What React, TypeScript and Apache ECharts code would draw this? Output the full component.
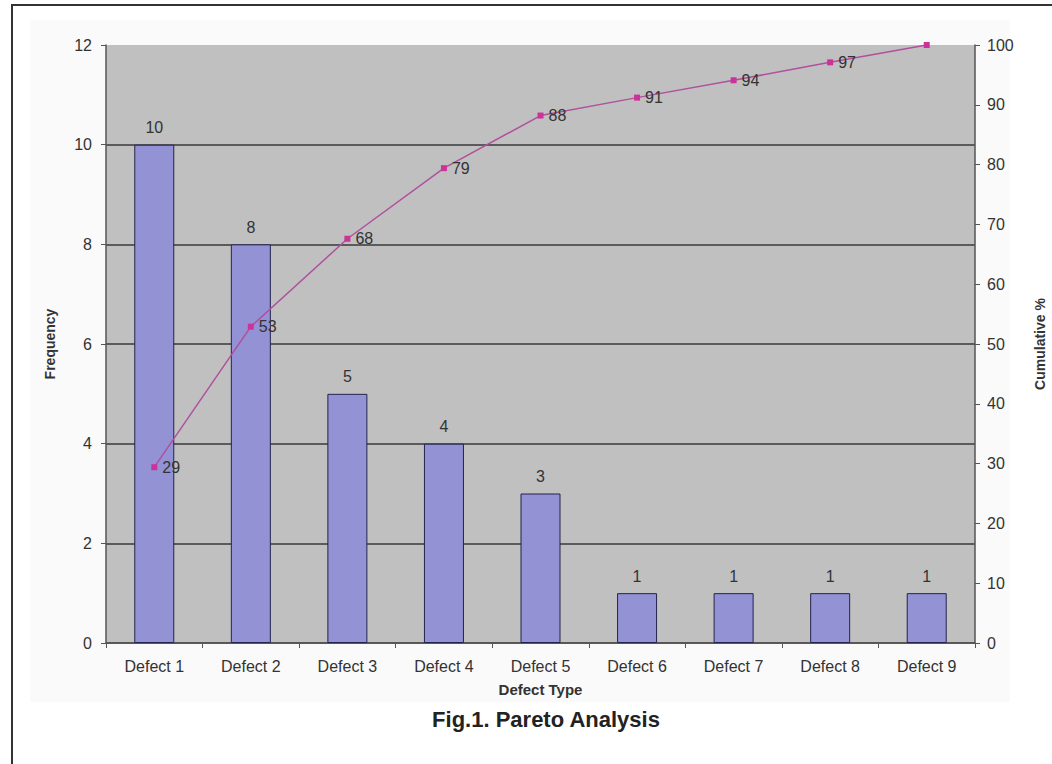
import React, { useEffect, useRef } from "react";
import * as echarts from "echarts";

const categories = ["Defect 1", "Defect 2", "Defect 3", "Defect 4", "Defect 5", "Defect 6", "Defect 7", "Defect 8", "Defect 9"];
const frequency = [10, 8, 5, 4, 3, 1, 1, 1, 1];
const cumulative = [29.4, 52.9, 67.6, 79.4, 88.2, 91.2, 94.1, 97.1, 100];
const cumulativeLabels = ["29", "53", "68", "79", "88", "91", "94", "97", ""];
const leftTicks = { min: 0, max: 12, interval: 2 };
const rightTicks = { min: 0, max: 100, interval: 10 };
const title = "Fig.1. Pareto Analysis";
const xName = "Defect Type";
const leftName = "Frequency";
const rightName = "Cumulative %";

const FONT = "'Liberation Sans', Arial, sans-serif";

export default function App() {
  const ref = useRef<HTMLDivElement>(null);
  useEffect(() => {
    document.body.style.margin = "0";
    const chart = echarts.init(ref.current!, null, { renderer: "svg" });
    const axisLabel = { color: "#333", fontSize: 16, fontFamily: FONT };
    const axisLine = { show: true, lineStyle: { color: "#555", width: 1.5 } };
    chart.setOption({
      animation: false,
      backgroundColor: "#ffffff",
      textStyle: { fontFamily: FONT },
      title: {
        text: title,
        left: 541,
        top: 703,
        textAlign: "center",
        textStyle: { fontSize: 22, fontWeight: "bold", color: "#222", fontFamily: FONT },
      },
      graphic: [
        {
          type: "rect",
          z: -10,
          shape: { x: 30, y: 20, width: 980, height: 682 },
          style: { fill: "#fafafa" },
          silent: true,
        },
        {
          type: "rect",
          z: 100,
          shape: { x: 12, y: 5, width: 1100, height: 800 },
          style: { fill: "none", stroke: "#333", lineWidth: 2 },
          silent: true,
        },
      ],
      grid: {
        left: 106,
        right: 77,
        top: 45,
        bottom: 121,
        show: true,
        backgroundColor: "#c0c0c0",
        borderWidth: 0,
        containLabel: false,
        outerBoundsMode: "none",
      },
      xAxis: {
        type: "category",
        data: categories,
        boundaryGap: true,
        axisLine,
        axisTick: { show: true, alignWithLabel: false, length: 5, lineStyle: { color: "#555" } },
        axisLabel: { ...axisLabel, margin: 15 },
        name: xName,
        nameLocation: "middle",
        nameGap: 39,
        nameTextStyle: { fontSize: 15, fontWeight: "bold", color: "#333", fontFamily: FONT },
      },
      yAxis: [
        {
          type: "value",
          min: leftTicks.min,
          max: leftTicks.max,
          interval: leftTicks.interval,
          axisLine,
          axisTick: { show: true, length: 5, lineStyle: { color: "#555" } },
          axisLabel: { ...axisLabel, margin: 14 },
          splitLine: { show: true, showMaxLine: false, lineStyle: { color: "#3a3a3a", width: 1.5 } },
          name: leftName,
          nameLocation: "middle",
          nameRotate: 90,
          nameGap: 49,
          nameTextStyle: { fontSize: 14, fontWeight: "bold", color: "#333", fontFamily: FONT },
        },
        {
          type: "value",
          position: "right",
          min: rightTicks.min,
          max: rightTicks.max,
          interval: rightTicks.interval,
          axisLine,
          axisTick: { show: true, length: 5, lineStyle: { color: "#555" } },
          axisLabel: { ...axisLabel, margin: 12 },
          splitLine: { show: false },
          name: rightName,
          nameLocation: "middle",
          nameRotate: 90,
          nameGap: 58,
          nameTextStyle: { fontSize: 14, fontWeight: "bold", color: "#333", fontFamily: FONT },
        },
      ],
      series: [
        {
          type: "bar",
          data: frequency,
          yAxisIndex: 0,
          barWidth: 40,
          itemStyle: { color: "#9292d4", borderColor: "#23234d", borderWidth: 1 },
          label: { show: true, position: "top", distance: 9, color: "#333", fontSize: 16, fontFamily: FONT },
        },
        {
          type: "line",
          data: cumulative,
          yAxisIndex: 1,
          symbol: "rect",
          symbolSize: 6,
          lineStyle: { color: "#b0509e", width: 1.5 },
          itemStyle: { color: "#cc3399" },
          label: {
            show: true,
            position: "right",
            distance: 5,
            color: "#333",
            fontSize: 16,
            fontFamily: FONT,
            formatter: (p: any) => cumulativeLabels[p.dataIndex],
          },
        },
      ],
    });
    return () => chart.dispose();
  }, []);
  return <div ref={ref} style={{ position: "absolute", left: 0, top: 0, width: 1052, height: 764 }} />;
}
